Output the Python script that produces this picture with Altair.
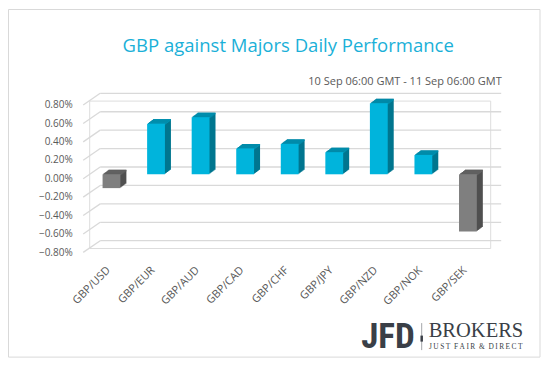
import altair as alt
import pandas as pd

pairs = ["GBP/USD", "GBP/EUR", "GBP/AUD", "GBP/CAD", "GBP/CHF", "GBP/JPY", "GBP/NZD", "GBP/NOK", "GBP/SEK"]
values = [-0.0015, 0.0055, 0.0062, 0.0028, 0.0033, 0.0024, 0.0077, 0.0021, -0.0062]
y_ticks = [-0.008, -0.006, -0.004, -0.002, 0.0, 0.002, 0.004, 0.006, 0.008]

title_text = "GBP against Majors Daily Performance"
subtitle_text = "10 Sep 06:00 GMT - 11 Sep 06:00 GMT"

df = pd.DataFrame({"pair": pairs, "value": values})
df["top"] = df["value"].clip(lower=0)
df["zero"] = 0.0
ticks_df = pd.DataFrame({"v": y_ticks})

W, H = 401, 147.4
FONT = "Open Sans"
GRID = "#d9d9d9"

xscale = alt.Scale(paddingInner=0.6, paddingOuter=0.3)
xaxis = alt.Axis(labelAngle=-45, domain=False, ticks=False, grid=False,
                 labelPadding=16, labelOffset=-7, labelFont=FONT, labelFontSize=11,
                 labelColor="#595959", labelOverlap=False)
xs = alt.X("pair:N", sort=pairs, title=None, scale=xscale, axis=xaxis)
yscale = alt.Scale(domain=[-0.008, 0.008], nice=False)
yaxis = alt.Axis(values=y_ticks, format=".2%", domain=False, ticks=False,
                 grid=False, labelPadding=17, labelOffset=4, labelFont=FONT,
                 labelFontSize=10, labelColor="#595959", labelOverlap=False)


def Y(field):
    return alt.Y(field, scale=yscale, title=None, axis=yaxis)


def col(pos, neg):
    return alt.condition("datum.value >= 0", alt.value(pos), alt.value(neg))


base = alt.Chart(df)

back_grid = alt.Chart(ticks_df).mark_rule(color=GRID, strokeWidth=1.3, yOffset=-7.3).encode(
    y=Y("v:Q"), x=alt.value(11), x2=alt.value(W + 11))
diag_grid = alt.Chart(ticks_df).mark_rule(color=GRID, strokeWidth=1.3, yOffset=4.4, y2Offset=-7.3).encode(
    y=Y("v:Q"), y2="v:Q", x=alt.value(-6), x2=alt.value(11))

layers = [back_grid, diag_grid]

N = 6
for k in range(N, 0, -1):
    dx = k * 1.0
    dy = -k * 0.75
    layers.append(base.mark_bar(xOffset=dx, x2Offset=dx, yOffset=dy, y2Offset=dy).encode(
        x=xs, y=Y("value:Q"), y2="zero:Q", color=col("#00768f", "#505050")))
    layers.append(base.mark_bar(xOffset=dx, x2Offset=dx, yOffset=dy, y2Offset=dy + 1.6).encode(
        x=xs, y=Y("top:Q"), y2="top:Q", color=col("#0092b2", "#666666")))

layers.append(base.mark_bar().encode(x=xs, y=Y("value:Q"), y2="zero:Q", color=col("#00b4dc", "#7f7f7f")))

# border
border = alt.Chart(ticks_df.head(1)).mark_rect(fill=None, stroke="#d9d9d9", strokeWidth=1).encode(
    x=alt.value(-80.7), x2=alt.value(450.8), y=alt.value(-91.1), y2=alt.value(256.5))

txt = alt.Chart(ticks_df.head(1))
title = txt.mark_text(text=title_text, font=FONT, fontSize=18.5, color="#1ab0d8",
                      align="center", baseline="alphabetic").encode(x=alt.value(199), y=alt.value(-49))
subtitle = txt.mark_text(text=subtitle_text, font=FONT, fontSize=11, color="#595959",
                         align="right", baseline="alphabetic").encode(x=alt.value(412.5), y=alt.value(-15.6))
jfd = txt.mark_text(text="JFD", font="Liberation Sans Narrow, Roboto Condensed, Liberation Sans", fontSize=35,
                    fontWeight="bold", color="#3a3f47", align="left", baseline="alphabetic").encode(
    x=alt.value(272), y=alt.value(247.8))
sep = txt.mark_rule(color="#8a8d92", strokeWidth=0.8).encode(
    x=alt.value(332.5), y=alt.value(222.5), y2=alt.value(249.5))
sep2 = txt.mark_rule(color="#3a3f47", strokeWidth=2.5).encode(
    x=alt.value(332.5), y=alt.value(235), y2=alt.value(241))
brokers = txt.mark_text(text="BROKERS", font="Liberation Serif", fontSize=20.5, color="#3a3f47",
                        align="left", baseline="alphabetic").encode(x=alt.value(339.5), y=alt.value(236.2))
tag_text = "\u00a0\u00a0".join("\u2009".join(w) for w in ["JUST", "FAIR", "&", "DIRECT"])
tag = txt.mark_text(text=tag_text, font="Liberation Serif", fontSize=7.4,
                    color="#3a3f47", align="left", baseline="alphabetic").encode(
    x=alt.value(339.8), y=alt.value(248.8))

chart = alt.layer(border, *layers, title, subtitle, jfd, sep, sep2, brokers, tag).properties(
    width=W, height=H, padding={"left": 81.2, "top": 92.6, "right": 50.8, "bottom": 110},
    autosize=alt.AutoSizeParams(type="none"),
).configure_view(stroke=None).configure(background="white")

chart.save("out.html", embed_options={"renderer": "svg", "actions": False})
